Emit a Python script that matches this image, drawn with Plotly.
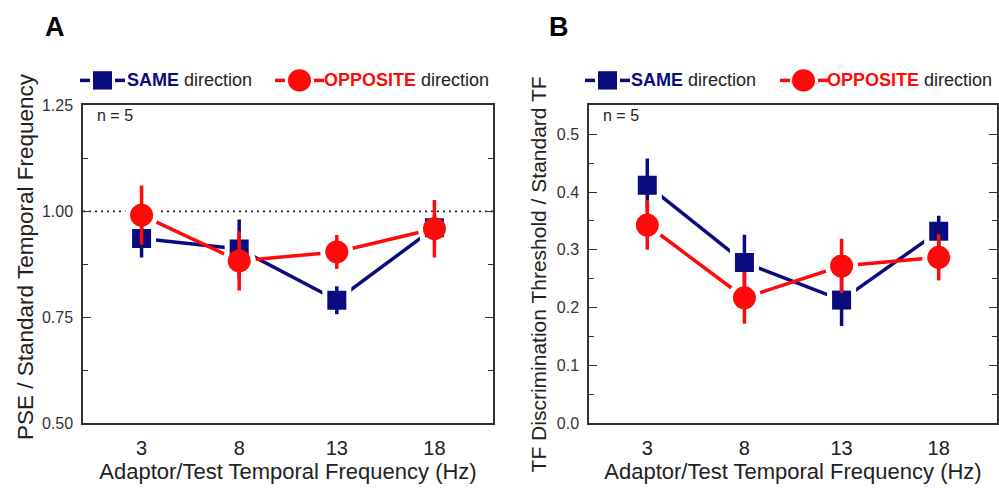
import plotly.graph_objects as go

freqs = [3, 8, 13, 18]
# Panel A: PSE / standard TF
pse_same = [0.936, 0.911, 0.790, 0.961]
pse_same_err = [0.045, 0.070, 0.033, 0.030]
pse_opp = [0.991, 0.883, 0.904, 0.959]
pse_opp_err = [0.070, 0.070, 0.040, 0.068]
# Panel B: TF discrimination threshold / standard TF
thr_same = [0.412, 0.278, 0.213, 0.332]
thr_same_err = [0.046, 0.048, 0.045, 0.027]
thr_opp = [0.343, 0.217, 0.272, 0.287]
thr_opp_err = [0.043, 0.045, 0.047, 0.040]

NAVY = "#0b0b80"
RED = "#ff0a0a"
FONT = "Liberation Sans, Arial, sans-serif"
W, H = 999, 489
SQ, CI = 19, 23  # marker sizes

def px(x):
    return x / W

def py(y):
    return 1 - y / H

fig = go.Figure()

panels = [
    ("x", "y", pse_same, pse_same_err, pse_opp, pse_opp_err),
    ("x2", "y2", thr_same, thr_same_err, thr_opp, thr_opp_err),
]
series_style = [(NAVY, "square", SQ), (RED, "circle", CI)]

for xa, ya, s, se, o, oe in panels:
    data = [(s, se), (o, oe)]
    # connecting lines
    for (vals, _), (col, sym, sz) in zip(data, series_style):
        fig.add_trace(go.Scatter(x=freqs, y=vals, mode="lines", line=dict(color=col, width=3.5),
                                 xaxis=xa, yaxis=ya, showlegend=False, hoverinfo="skip"))
    # white halos to make gaps between lines and markers
    for (vals, _), (col, sym, sz) in zip(data, series_style):
        fig.add_trace(go.Scatter(x=freqs, y=vals, mode="markers",
                                 marker=dict(symbol=sym, size=sz + 10, color="white", line=dict(width=0)),
                                 xaxis=xa, yaxis=ya, showlegend=False, hoverinfo="skip"))
    # markers with error bars
    for (vals, err), (col, sym, sz) in zip(data, series_style):
        fig.add_trace(go.Scatter(x=freqs, y=vals, mode="markers",
                                 marker=dict(symbol=sym, size=sz, color=col, line=dict(width=0)),
                                 error_y=dict(type="data", array=err, visible=True, color=col,
                                              thickness=3.5, width=0),
                                 xaxis=xa, yaxis=ya, showlegend=False))

ytop = 1 - 101 / H
ybot = 1 - 430 / H

xcommon = dict(range=[0, 21], tickvals=freqs, ticktext=[str(f) for f in freqs],
               showline=True, linecolor="#333", linewidth=1.5, mirror=True,
               ticks="", showgrid=False, zeroline=False, ticklabelstandoff=6,
               tickfont=dict(family=FONT, size=20, color="#222"),
               title=dict(text="Adaptor/Test Temporal Frequency (Hz)",
                          font=dict(family=FONT, size=22, color="#222"), standoff=2))
ycommon = dict(showline=True, linecolor="#333", linewidth=1.5, mirror="ticks",
               ticks="inside", ticklen=8, tickwidth=1.3, tickcolor="#333",
               showgrid=False, zeroline=False, ticklabelstandoff=5,
               tickfont=dict(family=FONT, size=16, color="#333"),
               domain=[ybot, ytop])

shapes = [dict(type="line", xref="x domain", yref="y", x0=0, x1=1, y0=1.0, y1=1.0,
               line=dict(color="#222", width=1.6, dash="2px,4px"), layer="below")]
annotations = []

# Hand-built legends (one per panel)
def legend(x0, y0, sq_x, text_x_same, red_x, circ_x, text_x_opp):
    # SAME entry
    shapes.append(dict(type="line", xref="paper", yref="paper", x0=px(x0), x1=px(x0 + 10),
                       y0=py(y0), y1=py(y0), line=dict(color=NAVY, width=3.5)))
    shapes.append(dict(type="rect", xref="paper", yref="paper", x0=px(sq_x), x1=px(sq_x + SQ),
                       y0=py(y0 - SQ / 2), y1=py(y0 + SQ / 2), fillcolor=NAVY, line=dict(width=0)))
    shapes.append(dict(type="line", xref="paper", yref="paper", x0=px(sq_x + SQ + 3), x1=px(sq_x + SQ + 13),
                       y0=py(y0), y1=py(y0), line=dict(color=NAVY, width=3.5)))
    annotations.append(dict(text="<b><span style='color:%s'>SAME</span></b> direction" % NAVY,
                            x=px(text_x_same), y=py(y0), xref="paper", yref="paper",
                            xanchor="left", yanchor="middle", showarrow=False,
                            font=dict(family=FONT, size=18, color="#222")))
    # OPPOSITE entry
    shapes.append(dict(type="line", xref="paper", yref="paper", x0=px(red_x), x1=px(red_x + 10),
                       y0=py(y0), y1=py(y0), line=dict(color=RED, width=3.5)))
    shapes.append(dict(type="circle", xref="paper", yref="paper", x0=px(circ_x), x1=px(circ_x + CI),
                       y0=py(y0 - CI / 2), y1=py(y0 + CI / 2), fillcolor=RED, line=dict(width=0)))
    shapes.append(dict(type="line", xref="paper", yref="paper", x0=px(circ_x + CI + 3), x1=px(circ_x + CI + 13),
                       y0=py(y0), y1=py(y0), line=dict(color=RED, width=3.5)))
    annotations.append(dict(text="<b><span style='color:%s'>OPPOSITE</span></b> direction" % RED,
                            x=px(text_x_opp), y=py(y0), xref="paper", yref="paper",
                            xanchor="left", yanchor="middle", showarrow=False,
                            font=dict(family=FONT, size=18, color="#222")))

legend(80, 75, 93, 125, 275, 288, 322)
legend(585, 75, 598, 629, 780, 792, 825)

annotations += [
    dict(text="<b>A</b>", x=px(55), y=py(20), xref="paper", yref="paper",
         xanchor="center", yanchor="middle", showarrow=False,
         font=dict(family=FONT, size=27, color="black")),
    dict(text="<b>B</b>", x=px(559), y=py(20), xref="paper", yref="paper",
         xanchor="center", yanchor="middle", showarrow=False,
         font=dict(family=FONT, size=27, color="black")),
    dict(text="n = 5", x=px(95), y=py(100), xref="paper", yref="paper",
         xanchor="left", yanchor="top", showarrow=False,
         font=dict(family=FONT, size=16, color="#222")),
    dict(text="n = 5", x=px(601), y=py(100), xref="paper", yref="paper",
         xanchor="left", yanchor="top", showarrow=False,
         font=dict(family=FONT, size=16, color="#222")),
    dict(text="PSE / Standard Temporal Frequency", textangle=-90,
         x=px(25), y=py(258), xref="paper", yref="paper",
         xanchor="center", yanchor="middle", showarrow=False,
         font=dict(family=FONT, size=22.5, color="#222")),
    dict(text="TF Discrimination Threshold / Standard TF", textangle=-90,
         x=px(538), y=py(276), xref="paper", yref="paper",
         xanchor="center", yanchor="middle", showarrow=False,
         font=dict(family=FONT, size=21, color="#222")),
]

fig.update_layout(
    width=W, height=H, margin=dict(l=0, r=0, t=0, b=0),
    paper_bgcolor="white", plot_bgcolor="white",
    font=dict(family=FONT),
    showlegend=False,
    xaxis=dict(domain=[83 / W, 493 / W], anchor="y", **xcommon),
    xaxis2=dict(domain=[589 / W, 997 / W], anchor="y2", **xcommon),
    yaxis=dict(range=[0.5, 1.25], tickvals=[0.5, 0.75, 1.0, 1.25],
               ticktext=["0.50", "0.75", "1.00", "1.25"], anchor="x",
               minor=dict(ticks="inside", ticklen=5, tickcolor="#333", dtick=0.125, tick0=0.5),
               **ycommon),
    yaxis2=dict(range=[0, 0.55], tickvals=[0, 0.1, 0.2, 0.3, 0.4, 0.5],
                ticktext=["0.0", "0.1", "0.2", "0.3", "0.4", "0.5"], anchor="x2",
                minor=dict(ticks="inside", ticklen=5, tickcolor="#333", dtick=0.05, tick0=0),
                **ycommon),
    shapes=shapes,
    annotations=annotations,
)

fig.write_html("out.html")
